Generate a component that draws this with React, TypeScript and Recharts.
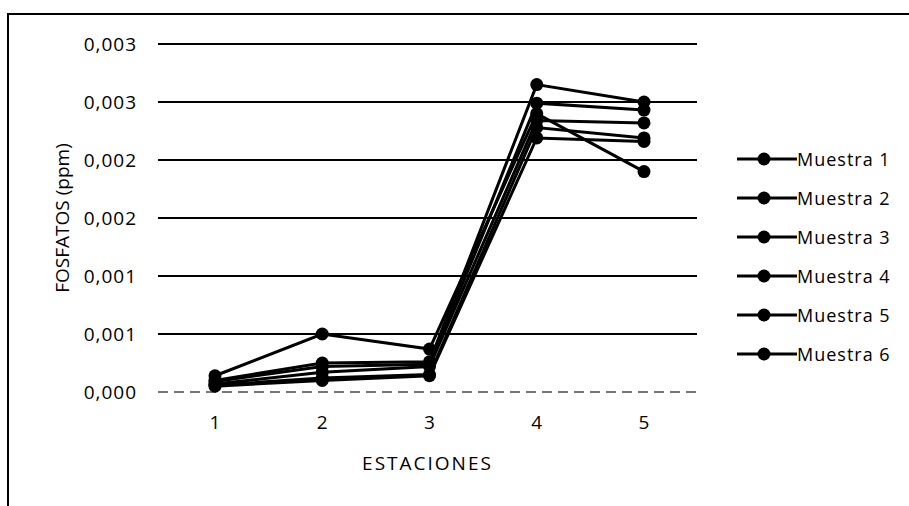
import React from "react";
import { LineChart, Line, XAxis, YAxis, CartesianGrid, Legend } from "recharts";

const estaciones = ["1", "2", "3", "4", "5"];
const muestra1 = [0.0001, 0.00025, 0.00026, 0.00265, 0.0025];
const muestra2 = [0.00009, 0.00022, 0.00024, 0.00249, 0.00243];
const muestra3 = [0.00014, 0.0005, 0.00037, 0.0024, 0.0019];
const muestra4 = [0.00007, 0.00017, 0.00022, 0.00234, 0.00232];
const muestra5 = [0.00006, 0.00012, 0.00015, 0.00228, 0.00219];
const muestra6 = [0.00005, 0.0001, 0.00014, 0.00219, 0.00216];
const seriesNames = ["Muestra 1", "Muestra 2", "Muestra 3", "Muestra 4", "Muestra 5", "Muestra 6"];
const yTicks = [0, 0.0005, 0.001, 0.0015, 0.002, 0.0025, 0.003];
const yTickLabels = ["0,000", "0,001", "0,001", "0,002", "0,002", "0,003", "0,003"];

const allSeries = [muestra1, muestra2, muestra3, muestra4, muestra5, muestra6];
const data = estaciones.map((e, i) => {
  const row: any = { estacion: e };
  allSeries.forEach((s, k) => {
    row["m" + (k + 1)] = s[i];
  });
  return row;
});

const FONT = "'Open Sans', sans-serif";

const renderLegend = () => (
  <div style={{ fontFamily: FONT }}>
    {seriesNames.map((n) => (
      <div key={n} style={{ display: "flex", alignItems: "center", height: 39 }}>
        <svg width={60} height={16}>
          <line x1={0} y1={8} x2={60} y2={8} stroke="#000" strokeWidth={3} />
          <circle cx={27} cy={8} r={6.5} fill="#000" />
        </svg>
        <span style={{ fontSize: 18, letterSpacing: 1, color: "#000", marginLeft: 0 }}>{n}</span>
      </div>
    ))}
  </div>
);

export default function App() {
  return (
    <div style={{ position: "absolute", left: 0, top: 0, width: 909, height: 506, background: "#fff" }}>
      <div
        style={{
          position: "absolute",
          left: 7,
          top: 13,
          width: 909,
          height: 506,
          borderLeft: "2px solid #000",
          borderTop: "2px solid #000",
          boxSizing: "border-box",
        }}
      />
      <LineChart
        width={909}
        height={506}
        data={data}
        margin={{ top: 44, right: 212, bottom: 0, left: 78 }}
        style={{ position: "absolute", left: 0, top: 0, fontFamily: FONT }}
      >
        <CartesianGrid
          vertical={false}
          stroke="#000"
          strokeWidth={2}
          horizontalValues={[0.0005, 0.001, 0.0015, 0.002, 0.0025, 0.003]}
        />
        <XAxis
          dataKey="estacion"
          height={114}
          padding={{ left: 57, right: 53 }}
          axisLine={{ stroke: "#777", strokeWidth: 2, strokeDasharray: "10 6" }}
          tickLine={false}
          tickSize={0}
          tickMargin={24}
          tick={{ fill: "#000", fontSize: 19, fontFamily: FONT }}
          label={{ value: "ESTACIONES", position: "insideBottom", offset: 36, fill: "#000", fontSize: 19, fontFamily: FONT, letterSpacing: 2 }}
        />
        <YAxis
          width={80}
          domain={[0, 0.003]}
          ticks={yTicks}
          interval={0}
          axisLine={false}
          tickLine={false}
          tickSize={0}
          tickMargin={21}
          tickFormatter={(v: number) => yTickLabels[yTicks.indexOf(v)] ?? ""}
          tick={{ fill: "#000", fontSize: 19, fontFamily: FONT, letterSpacing: 1 }}
          label={{ value: "FOSFATOS (ppm)", angle: -90, position: "insideLeft", offset: -16, fill: "#000", fontSize: 19, fontFamily: FONT, style: { textAnchor: "middle" } }}
        />
        <Legend
          layout="vertical"
          align="center"
          verticalAlign="middle"
          content={renderLegend}
          wrapperStyle={{ left: 737, top: 139, width: 170 }}
        />
        {seriesNames.map((n, k) => (
          <Line
            key={n}
            name={n}
            dataKey={"m" + (k + 1)}
            stroke="#000"
            strokeWidth={3}
            dot={{ r: 6.5, fill: "#000", stroke: "#000", strokeWidth: 0 }}
            activeDot={false}
            isAnimationActive={false}
          />
        ))}
      </LineChart>
    </div>
  );
}
